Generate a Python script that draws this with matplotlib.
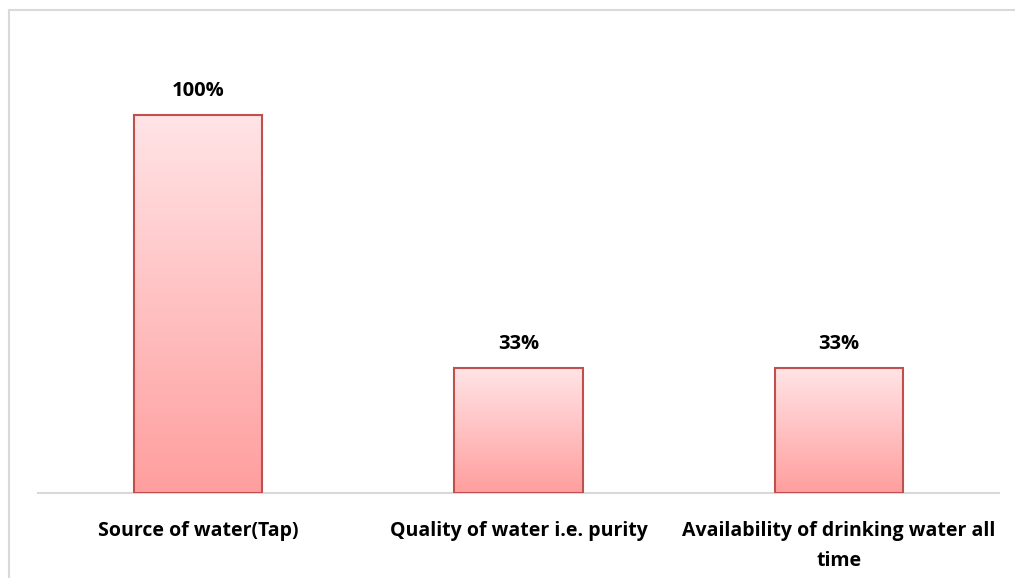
import numpy as np
import matplotlib
matplotlib.use("Agg")
import matplotlib.pyplot as plt
from matplotlib.colors import LinearSegmentedColormap
from matplotlib.patches import Rectangle

plt.rcParams['font.family'] = ['Open Sans', 'DejaVu Sans']

categories = ['Source of water(Tap)',
              'Quality of water i.e. purity',
              'Availability of drinking water all\ntime']
values = [100, 33, 33]
labels = ['100%', '33%', '33%']

W, H = 1015, 578
fig = plt.figure(figsize=(W / 100, H / 100), dpi=100)

# light grey frame, only top and left edges fall inside the canvas
fig.patches.append(Rectangle((8.5 / W, -0.1), 1.2, 1.1 - 10.5 / H, transform=fig.transFigure,
                             fill=False, edgecolor='#D9D9D9', linewidth=1.5))

ax = fig.add_axes([38 / W, (H - 493) / H, (999 - 38) / W, (493 - 30) / H])

cmap = LinearSegmentedColormap.from_list('pinkgrad', ['#FF9E9E', '#FFE4E6'])
grad = np.linspace(0, 1, 256).reshape(-1, 1)

x = np.arange(len(categories))
bars = ax.bar(x, values, width=0.4, color='none', edgecolor='#C0504D', linewidth=1.5, zorder=3)
for b in bars:
    x0, y0 = b.get_x(), b.get_y()
    im = ax.imshow(grad, cmap=cmap, origin='lower', aspect='auto',
                   extent=[x0, x0 + b.get_width(), y0, y0 + b.get_height()], zorder=2)
    im.set_clip_path(b)

for xi, v, lab in zip(x, values, labels):
    ax.text(xi, v + 5.0, lab, ha='center', va='baseline', fontsize=14.5, fontweight='bold')

ax.set_xticks(x)
ax.set_xticklabels(categories, fontsize=14, fontweight='bold', linespacing=1.65)
ax.tick_params(axis='x', length=0, pad=20)
ax.set_yticks([])
for s in ['top', 'right', 'left']:
    ax.spines[s].set_visible(False)
ax.spines['bottom'].set_color('#D9D9D9')
ax.spines['bottom'].set_linewidth(1.5)
ax.set_xlim(-0.5, len(categories) - 0.5)
ax.set_ylim(0, 122.5)

fig.savefig('out.png', dpi=100)
